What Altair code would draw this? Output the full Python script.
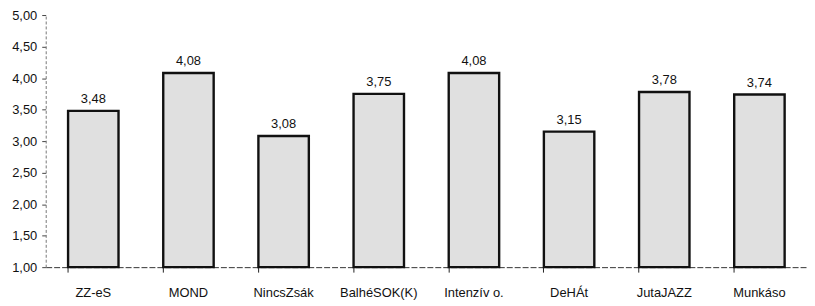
import altair as alt
import pandas as pd

categories = ["ZZ-eS", "MOND", "NincsZsák", "BalhéSOK(K)", "Intenzív o.", "DeHÁt", "JutaJAZZ", "Munkáso"]
values = [3.48, 4.08, 3.08, 3.75, 4.08, 3.15, 3.78, 3.74]
value_labels = ["3,48", "4,08", "3,08", "3,75", "4,08", "3,15", "3,78", "3,74"]
y_ticks = [1, 1.5, 2, 2.5, 3, 3.5, 4, 4.5, 5]

df = pd.DataFrame({"cat": categories, "val": values, "lab": value_labels})

FONT = "Liberation Sans"

xscale = alt.Scale(paddingInner=0.47, paddingOuter=0.235)
yscale = alt.Scale(domain=[1, 5], nice=False, zero=False)

yaxis = alt.Axis(values=y_ticks,
                 labelExpr="replace(format(datum.value, '.2f'), '.', ',')",
                 labelOverlap=False, tickCount=9,
                 grid=False, labelFont=FONT, labelFontSize=13, labelColor="#111",
                 tickSize=4, tickColor="#444", domainColor="#777",
                 domainDash=[3, 2], labelPadding=5)
xaxis = alt.Axis(labelAngle=0, ticks=True, bandPosition=0, tickSize=5, tickColor="#222",
                 labelPadding=15, labelFont=FONT,
                 labelFontSize=13, labelColor="#111", domainColor="#333",
                 domainDash=[6, 2], domainWidth=1)

base = alt.Chart(df)

bars = base.mark_bar(fill="#e0e0e0", stroke="#111111", strokeWidth=2.4).encode(
    x=alt.X("cat:N", sort=categories, scale=xscale, title=None, axis=xaxis),
    y=alt.Y("val:Q", scale=yscale, title=None, axis=yaxis),
    y2=alt.datum(1),
)

texts = base.mark_text(dy=-12, font=FONT, fontSize=13, color="#111").encode(
    x=alt.X("cat:N", sort=categories, scale=xscale, title=None, axis=xaxis),
    y=alt.Y("val:Q", scale=yscale, title=None, axis=yaxis),
    text="lab:N",
)

chart = alt.layer(bars, texts).properties(
    width=767, height=254,
    background="white",
    padding={"left": 3, "top": 0, "right": 0, "bottom": 0},
).configure_view(stroke=None)

chart.save("out.html", embed_options={"renderer": "svg", "actions": False})
